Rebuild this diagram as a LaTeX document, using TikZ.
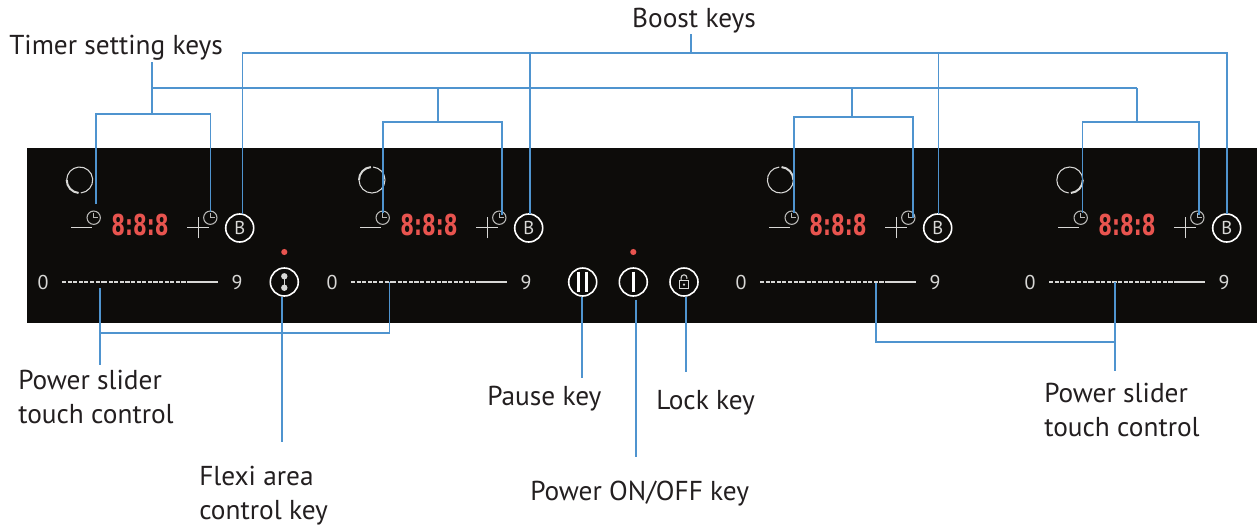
\documentclass[tikz,border=0pt]{standalone}
\usepackage{fontspec}
\usepackage{xcolor}
\setmainfont{PT Sans}
\newfontfamily\segfont{DejaVu Sans}
\usetikzlibrary{arrows.meta,positioning,calc}
\definecolor{Panel}{HTML}{0D0C0A}
\definecolor{Lead}{HTML}{4F94CF}
\definecolor{Segment}{HTML}{E8544F}
\definecolor{Ink}{HTML}{231F20}
\definecolor{Icon}{HTML}{D8D8D6}
\tikzset{
  callout/.style={font=\fontsize{20.5}{25.5}\selectfont,text=Ink,align=left,inner sep=0pt},
  lead/.style={draw=Lead,line width=1.2pt},
  keyring/.style={circle,draw=white,line width=1.2pt,minimum size=21pt,inner sep=0pt,text=Icon,
              font=\fontsize{14}{14}\selectfont},
  clockkey/.style={circle,draw=Icon!85!black,line width=0.8pt,minimum size=10pt,inner sep=0pt,
              path picture={\draw[Icon!85!black,line width=0.7pt]
                ([yshift=3.4pt]path picture bounding box.center)
                -- (path picture bounding box.center) -- ++(3.4pt,0);}},
  ringmark/.style={circle,minimum size=19.5pt,inner sep=0pt},
  stroke/.style={draw=Icon,line width=0.7pt},
  scale digit/.style={font=\fontsize{15}{15}\selectfont,text=Icon,inner sep=0pt},
  display/.style={font=\segfont\bfseries\fontsize{19}{19}\selectfont,text=Segment,inner sep=0pt,
              transform shape,xscale=0.78,yscale=1.14},
  indicator/.style={circle,fill=Segment,minimum size=4.6pt,inner sep=0pt}
}
\begin{document}
\begin{tikzpicture}[x=0.75pt,y=-0.75pt]
  \useasboundingbox (0,0) rectangle (1257,526);
  \fill[Panel] (27,148) rectangle (1257,323);

  % cooking zones
  \foreach \zone/\dx/\rx/\ta/\tb/\na/\nb in {1/0/79.7/180/265/275/540,2/289/372/95/180/180/445,
      3/698/780.4/0/85/95/360,4/987/1069.8/-85/0/0/265}{
    \node[ringmark] (ring\zone) at (\rx,180) {};
    \draw[draw=Icon,line width=0.8pt] ([shift=(\na:9.75pt)]ring\zone.center) arc[start angle=\na,end angle=\nb,radius=9.75pt];
    \draw[draw=Icon,line width=1.5pt] ([shift=(\ta:9.75pt)]ring\zone.center) arc[start angle=\ta,end angle=\tb,radius=9.75pt];
    \coordinate (minusA\zone) at ({71+\dx},227.3);
    \coordinate (minusB\zone) at ({92+\dx},227.3);
    \draw[stroke] (minusA\zone) -- (minusB\zone);
    \node[clockkey] (clockL\zone) at ({93.7+\dx},217.7) {};
    \node[display] (display\zone) at ({140+\dx},225) {8:8:8};
    \coordinate (plus\zone) at ({198+\dx},227.5);
    \draw[stroke] ([xshift=-8.2pt]plus\zone) -- ([xshift=8.2pt]plus\zone);
    \draw[stroke] ([yshift=-8.2pt]plus\zone) -- ([yshift=8.2pt]plus\zone);
    \node[clockkey] (clockR\zone) at ({210.3+\dx},217.7) {};
    \node[keyring] (boostkey\zone) at ({239.7+\dx},228) {B};
    \node[scale digit] (zero\zone) at ({43+\dx},282) {0};
    \node[scale digit] (nine\zone) at ({237+\dx},282) {9};
    \coordinate (sliderA\zone) at ({62+\dx},282);
    \coordinate (sliderB\zone) at ({103+\dx},282);
    \coordinate (sliderC\zone) at ({190+\dx},282);
    \coordinate (sliderD\zone) at ({217.7+\dx},282);
    \draw[draw=Icon,line width=0.9pt,dash pattern=on 3pt off 1.2pt] (sliderA\zone) -- (sliderB\zone);
    \draw[draw=Icon,line width=1.8pt,dash pattern=on 3.2pt off 1pt] (sliderB\zone) -- (sliderC\zone);
    \draw[draw=Icon,line width=2pt] (sliderC\zone) -- (sliderD\zone);
  }

  % middle keys
  \node[indicator] (flexidot) at (284.3,252) {};
  \node[indicator] (powerdot) at (633.3,252) {};
  \node[keyring,path picture={
      \fill[Icon] ([yshift=4.3pt]path picture bounding box.center) circle (2.4pt);
      \fill[Icon] ([yshift=-4.3pt]path picture bounding box.center) circle (2.4pt);
      \draw[Icon,line width=0.8pt] ([yshift=4.3pt]path picture bounding box.center) -- ([yshift=-4.3pt]path picture bounding box.center);}]
      (flexikey) at (284.3,282) {};
  \node[keyring,path picture={
      \draw[white,line width=2pt] ([shift={(-3pt,7.8pt)}]path picture bounding box.center) -- ++(0,-15.6pt);
      \draw[white,line width=2pt] ([shift={(3pt,7.8pt)}]path picture bounding box.center) -- ++(0,-15.6pt);}]
      (pausekey) at (582.7,282) {};
  \node[keyring,path picture={
      \draw[white,line width=2pt] ([yshift=7.8pt]path picture bounding box.center) -- ++(0,-15.6pt);}]
      (powerkey) at (633.3,282) {};
  \node[keyring,path picture={
      \draw[Icon,line width=0.8pt] ([shift={(-3.4pt,-5pt)}]path picture bounding box.center) rectangle ++(6.8pt,6pt);
      \draw[Icon,line width=0.8pt] ([shift={(-2.2pt,1pt)}]path picture bounding box.center) -- ++(0,2.2pt) arc[start angle=180,end angle=0,radius=2.2pt] -- ++(0,-0.8pt);
      \fill[Icon] ([yshift=-2pt]path picture bounding box.center) circle (0.9pt);}]
      (lockkey) at (684,282) {};

  % labels
  \node[callout,anchor=base] (boostlabel) at (694,27) {Boost keys};
  \node[callout,anchor=base west] (timerlabel) at (9,54) {Timer setting keys};
  \node[callout,anchor=base west] (sliderlabelL) at (18,423) {Power slider\\touch control};
  \node[callout,anchor=base west] (flexilabel) at (199,519) {Flexi area\\control key};
  \node[callout,anchor=base west] (pauselabel) at (487,405) {Pause key};
  \node[callout,anchor=base west] (locklabel) at (656,409) {Lock key};
  \node[callout,anchor=base west] (powerlabel) at (530,500) {Power ON/OFF key};
  \node[callout,anchor=base west] (sliderlabelR) at (1044,436) {Power slider\\touch control};

  % boost leads
  \coordinate (boosttop) at (691,34);
  \coordinate (boostbar) at (691,53);
  \coordinate (boost1) at (242.3,213.5);
  \coordinate (boost2) at (529.7,213.5);
  \coordinate (boost3) at (938.4,213.5);
  \coordinate (boost4) at (1226.8,213.5);
  \draw[lead] (boosttop) -- (boostbar);
  \draw[lead] (boost1) |- (boostbar) -| (boost4);
  \draw[lead] (boostbar -| boost2) -- (boost2);
  \draw[lead] (boostbar -| boost3) -- (boost3);

  % timer leads
  \coordinate (timertop) at (152,62);
  \coordinate (timerbar) at (152,88);
  \coordinate (fork1) at (152,114);
  \coordinate (fork2) at (438,122);
  \coordinate (fork3) at (852,117);
  \coordinate (fork4) at (1137,122);
  \coordinate (timerL1) at (96,204);
  \coordinate (timerR1) at (210.3,212);
  \coordinate (timerL2) at (382.7,213);
  \coordinate (timerR2) at (502,215);
  \coordinate (timerL3) at (793.9,213);
  \coordinate (timerR3) at (912.9,218);
  \coordinate (timerL4) at (1082.6,213);
  \coordinate (timerR4) at (1199,215);
  \draw[lead] (timertop) -- (fork1);
  \draw[lead] (timerbar) -- (timerbar -| fork4);
  \foreach \zone in {1,2,3,4}{
    \draw[lead] (timerbar -| fork\zone) -- (fork\zone);
    \draw[lead] (timerL\zone) |- (fork\zone) -| (timerR\zone);
  }

  % slider leads
  \coordinate (sliderL1) at (100,288);
  \coordinate (sliderL2) at (389.3,282);
  \coordinate (sliderLbar) at (100,333);
  \coordinate (sliderLend) at (100,365);
  \coordinate (sliderR1) at (876.2,283);
  \coordinate (sliderR2) at (1115,282);
  \coordinate (sliderRbar) at (876.2,342);
  \coordinate (sliderRend) at (1115,371);
  \draw[lead] (sliderL1) -- (sliderLend);
  \draw[lead] (sliderLbar) -| (sliderL2);
  \draw[lead] (sliderR1) |- (sliderRbar -| sliderR2);
  \draw[lead] (sliderR2) -- (sliderRend);

  % key leads
  \coordinate (flexiend) at (281.7,442);
  \coordinate (pauseend) at (582,378);
  \coordinate (powerstart) at (635.7,300);
  \coordinate (powerend) at (635.7,457);
  \coordinate (lockend) at (685.7,372);
  \draw[lead] (flexikey.south -| flexiend) -- (flexiend);
  \draw[lead] (pausekey.south -| pauseend) -- (pauseend);
  \draw[lead] (powerstart) -- (powerend);
  \draw[lead] (lockkey.south -| lockend) -- (lockend);
\end{tikzpicture}
\end{document}
